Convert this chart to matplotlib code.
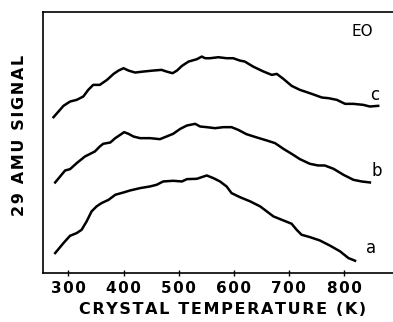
import numpy as np
import matplotlib.pyplot as plt

# traced curves: crystal temperature (K) and signal (arbitrary units, offset per curve)
temp_a = [276, 291, 303, 315, 324, 333, 342, 351, 360, 373, 385, 400, 412, 430, 448,
          460, 472, 490, 506, 515, 533, 542, 551, 563, 575, 587, 596, 611, 630, 648,
          660, 672, 690, 705, 714, 723, 738, 756, 775, 793, 808, 820]
sig_a = [60, 90, 112, 120, 130, 155, 185, 200, 210, 220, 235, 242, 248, 255, 260,
         265, 275, 277, 275, 282, 283, 288, 293, 285, 275, 260, 240, 228, 215, 200,
         185, 170, 158, 148, 130, 115, 108, 98, 82, 65, 45, 37]

temp_b = [276, 285, 294, 303, 315, 330, 348, 357, 363, 376, 385, 394, 401, 409, 418,
          430, 448, 466, 478, 490, 503, 515, 530, 539, 551, 566, 581, 596, 608, 623,
          642, 660, 675, 690, 705, 720, 738, 753, 765, 781, 799, 817, 832, 847]
sig_b = [272, 290, 308, 312, 330, 350, 365, 380, 388, 392, 405, 415, 423, 418, 410,
         405, 405, 402, 410, 418, 433, 443, 448, 440, 438, 435, 438, 438, 430, 417,
         407, 398, 390, 373, 358, 342, 328, 323, 323, 313, 295, 280, 275, 272]

temp_c = [273, 282, 291, 303, 315, 327, 336, 345, 357, 370, 382, 391, 400, 409, 421,
          436, 454, 469, 478, 489, 497, 506, 518, 533, 542, 548, 557, 572, 587, 599,
          611, 620, 635, 654, 669, 678, 690, 705, 720, 738, 760, 772, 787, 802, 817,
          835, 847, 862]
sig_c = [468, 485, 502, 515, 520, 530, 550, 565, 565, 580, 598, 608, 615, 608, 602,
         605, 608, 610, 605, 600, 608, 622, 635, 642, 650, 645, 645, 648, 645, 645,
         638, 635, 620, 605, 595, 598, 583, 562, 550, 540, 527, 525, 520, 508, 508,
         505, 500, 502]

curve_labels = ['a', 'b', 'c']
label_temp = [850, 860, 856]
label_sig = [75, 305, 535]
xticks = [300, 400, 500, 600, 700, 800]


def spaced(s):
    # the original lettering is widely spaced; pad with hair spaces
    return '\u200a'.join(s)


fig = plt.figure(figsize=(3.93, 3.22), dpi=100)
ax = fig.add_axes([0.109, 0.152, 0.891, 0.812])

for t, s in [(temp_a, sig_a), (temp_b, sig_b), (temp_c, sig_c)]:
    ax.plot(t, s, color='black', linewidth=1.8, solid_joinstyle='round')

for lab, t, s in zip(curve_labels, label_temp, label_sig):
    ax.text(t, s, lab, fontsize=12, ha='center', va='center', family='DejaVu Sans')

ax.text(0.911, 0.922, 'EO', transform=ax.transAxes, fontsize=11,
        ha='center', va='center', family='DejaVu Sans')

ax.set_xlim(253.6, 888.9)
ax.set_ylim(0, 785)
ax.set_xticks(xticks)
ax.set_xticklabels([spaced(str(v)) for v in xticks])
ax.set_yticks([])
ax.tick_params(axis='x', direction='inout', length=5, width=1, pad=3.5)
for lbl in ax.get_xticklabels():
    lbl.set_fontsize(11)
    lbl.set_fontweight('bold')
ax.spines['right'].set_visible(False)
for side in ['left', 'top', 'bottom']:
    ax.spines[side].set_linewidth(1.2)

ax.set_xlabel(spaced('CRYSTAL TEMPERATURE (K)'), fontsize=11.5, fontweight='bold')
ax.xaxis.set_label_coords(0.512, -0.11)
ax.set_ylabel(spaced('29 AMU SIGNAL'), fontsize=11.5, fontweight='bold')
ax.yaxis.set_label_coords(-0.045, 0.528)

fig.savefig('out.png', dpi=100)
